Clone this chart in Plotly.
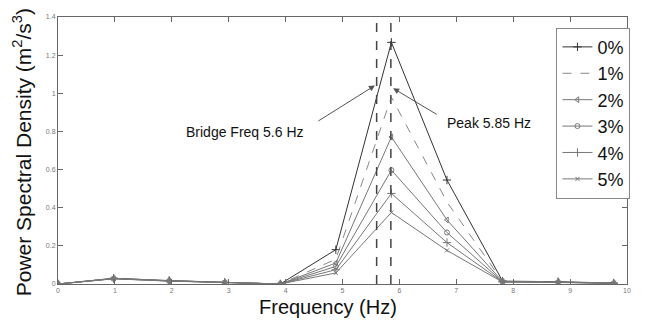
import plotly.graph_objects as go

freq = [0, 0.977, 1.953, 2.930, 3.906, 4.883, 5.859, 6.836, 7.813, 8.789, 9.766]
psd_0 = [0, 0.030, 0.018, 0.008, 0, 0.180, 1.267, 0.545, 0.015, 0.012, 0.005]
psd_1 = [0, 0.030, 0.018, 0.008, 0, 0.130, 0.980, 0.430, 0.014, 0.011, 0.005]
psd_2 = [0, 0.029, 0.017, 0.008, 0, 0.110, 0.771, 0.336, 0.013, 0.010, 0.004]
psd_3 = [0, 0.028, 0.016, 0.007, 0, 0.092, 0.597, 0.270, 0.012, 0.009, 0.004]
psd_4 = [0, 0.028, 0.016, 0.007, 0, 0.075, 0.475, 0.217, 0.011, 0.009, 0.004]
psd_5 = [0, 0.027, 0.015, 0.007, 0, 0.058, 0.375, 0.176, 0.010, 0.008, 0.003]
series_names = ["0%", "1%", "2%", "3%", "4%", "5%"]
ref_freqs = [5.6, 5.85]
x_ticks = [0, 1, 2, 3, 4, 5, 6, 7, 8, 9, 10]
y_ticks = [0, 0.2, 0.4, 0.6, 0.8, 1.0, 1.2, 1.4]
y_tick_text = ["0", "0.2", "0.4", "0.6", "0.8", "1", "1.2", "1.4"]

styles = [
    dict(color="#333333", dash="solid", symbol="cross-thin", size=6),
    dict(color="#888888", dash="dash", symbol=None, size=0),
    dict(color="#777777", dash="solid", symbol="triangle-left-open", size=5),
    dict(color="#777777", dash="solid", symbol="circle-open", size=5),
    dict(color="#777777", dash="solid", symbol="cross-thin", size=6),
    dict(color="#777777", dash="solid", symbol="x-thin", size=4),
]

fig = go.Figure()
for name, ys, st in zip(series_names, [psd_0, psd_1, psd_2, psd_3, psd_4, psd_5], styles):
    mode = "lines+markers" if st["symbol"] else "lines"
    marker = dict(symbol=st["symbol"], size=st["size"], color=st["color"],
                  line=dict(width=1, color=st["color"])) if st["symbol"] else None
    fig.add_trace(go.Scatter(
        x=freq, y=ys, name=name, mode=mode,
        line=dict(color=st["color"], width=1, dash=st["dash"]),
        marker=marker,
    ))

for f in ref_freqs:
    fig.add_shape(type="line", xref="x", yref="paper", x0=f, x1=f, y0=0, y1=1,
                  line=dict(color="#444444", width=1.5, dash="dash"))

ann_font = dict(family="Liberation Sans, Arial", size=14, color="#111111")
fig.add_annotation(x=3.28, y=0.796, xref="x", yref="y", text="Bridge Freq 5.6 Hz",
                   showarrow=False, font=ann_font)
fig.add_annotation(x=7.57, y=0.843, xref="x", yref="y", text="Peak 5.85 Hz",
                   showarrow=False, font=ann_font)
fig.add_annotation(x=5.57, y=1.041, ax=4.55, ay=0.85, xref="x", yref="y", axref="x", ayref="y",
                   text="", showarrow=True, arrowhead=2, arrowsize=1.2, arrowwidth=1,
                   arrowcolor="#555555")
fig.add_annotation(x=5.89, y=1.026, ax=6.68, ay=0.885, xref="x", yref="y", axref="x", ayref="y",
                   text="", showarrow=True, arrowhead=2, arrowsize=1.2, arrowwidth=1,
                   arrowcolor="#555555")

# axis titles as paper annotations for exact placement
title_font = dict(family="Liberation Sans, Arial", size=20, color="#111111")
fig.add_annotation(x=0.475, y=-0.088, xref="paper", yref="paper", yanchor="middle",
                   text="Frequency (Hz)", showarrow=False, font=title_font)
fig.add_annotation(x=-0.063, y=0.494, xref="paper", yref="paper", xanchor="center",
                   yanchor="middle", textangle=-90,
                   text="Power Spectral Density (m<sup>2</sup>/s<sup>3</sup>)",
                   showarrow=False, font=dict(family="Liberation Sans, Arial", size=21,
                                              color="#111111"))

axis_common = dict(showgrid=False, zeroline=False, showline=True, linecolor="#666666",
                   linewidth=1, mirror="ticks", ticks="inside", ticklen=5, tickcolor="#666666",
                   automargin=False,
                   tickfont=dict(family="Liberation Sans, Arial", size=7, color="#777777"))

fig.update_layout(
    width=660, height=322,
    margin=dict(l=58, r=33, t=17, b=38, autoexpand=False),
    paper_bgcolor="white", plot_bgcolor="white",
    font=dict(family="Liberation Sans, Arial", color="#111111"),
    xaxis=dict(range=[0, 10], tickvals=x_ticks, **axis_common),
    yaxis=dict(range=[0, 1.4], tickvals=y_ticks, ticktext=y_tick_text, **axis_common),
    legend=dict(x=0.876, y=0.96, xanchor="left", yanchor="top",
                bgcolor="white", bordercolor="#888888", borderwidth=1,
                font=dict(size=18, color="#111111"), itemwidth=30,
                tracegroupgap=0),
    showlegend=True,
)

fig.write_html("out.html", config={"displayModeBar": False},
               post_script="document.body.style.margin='0px';document.body.style.overflow='hidden';")
